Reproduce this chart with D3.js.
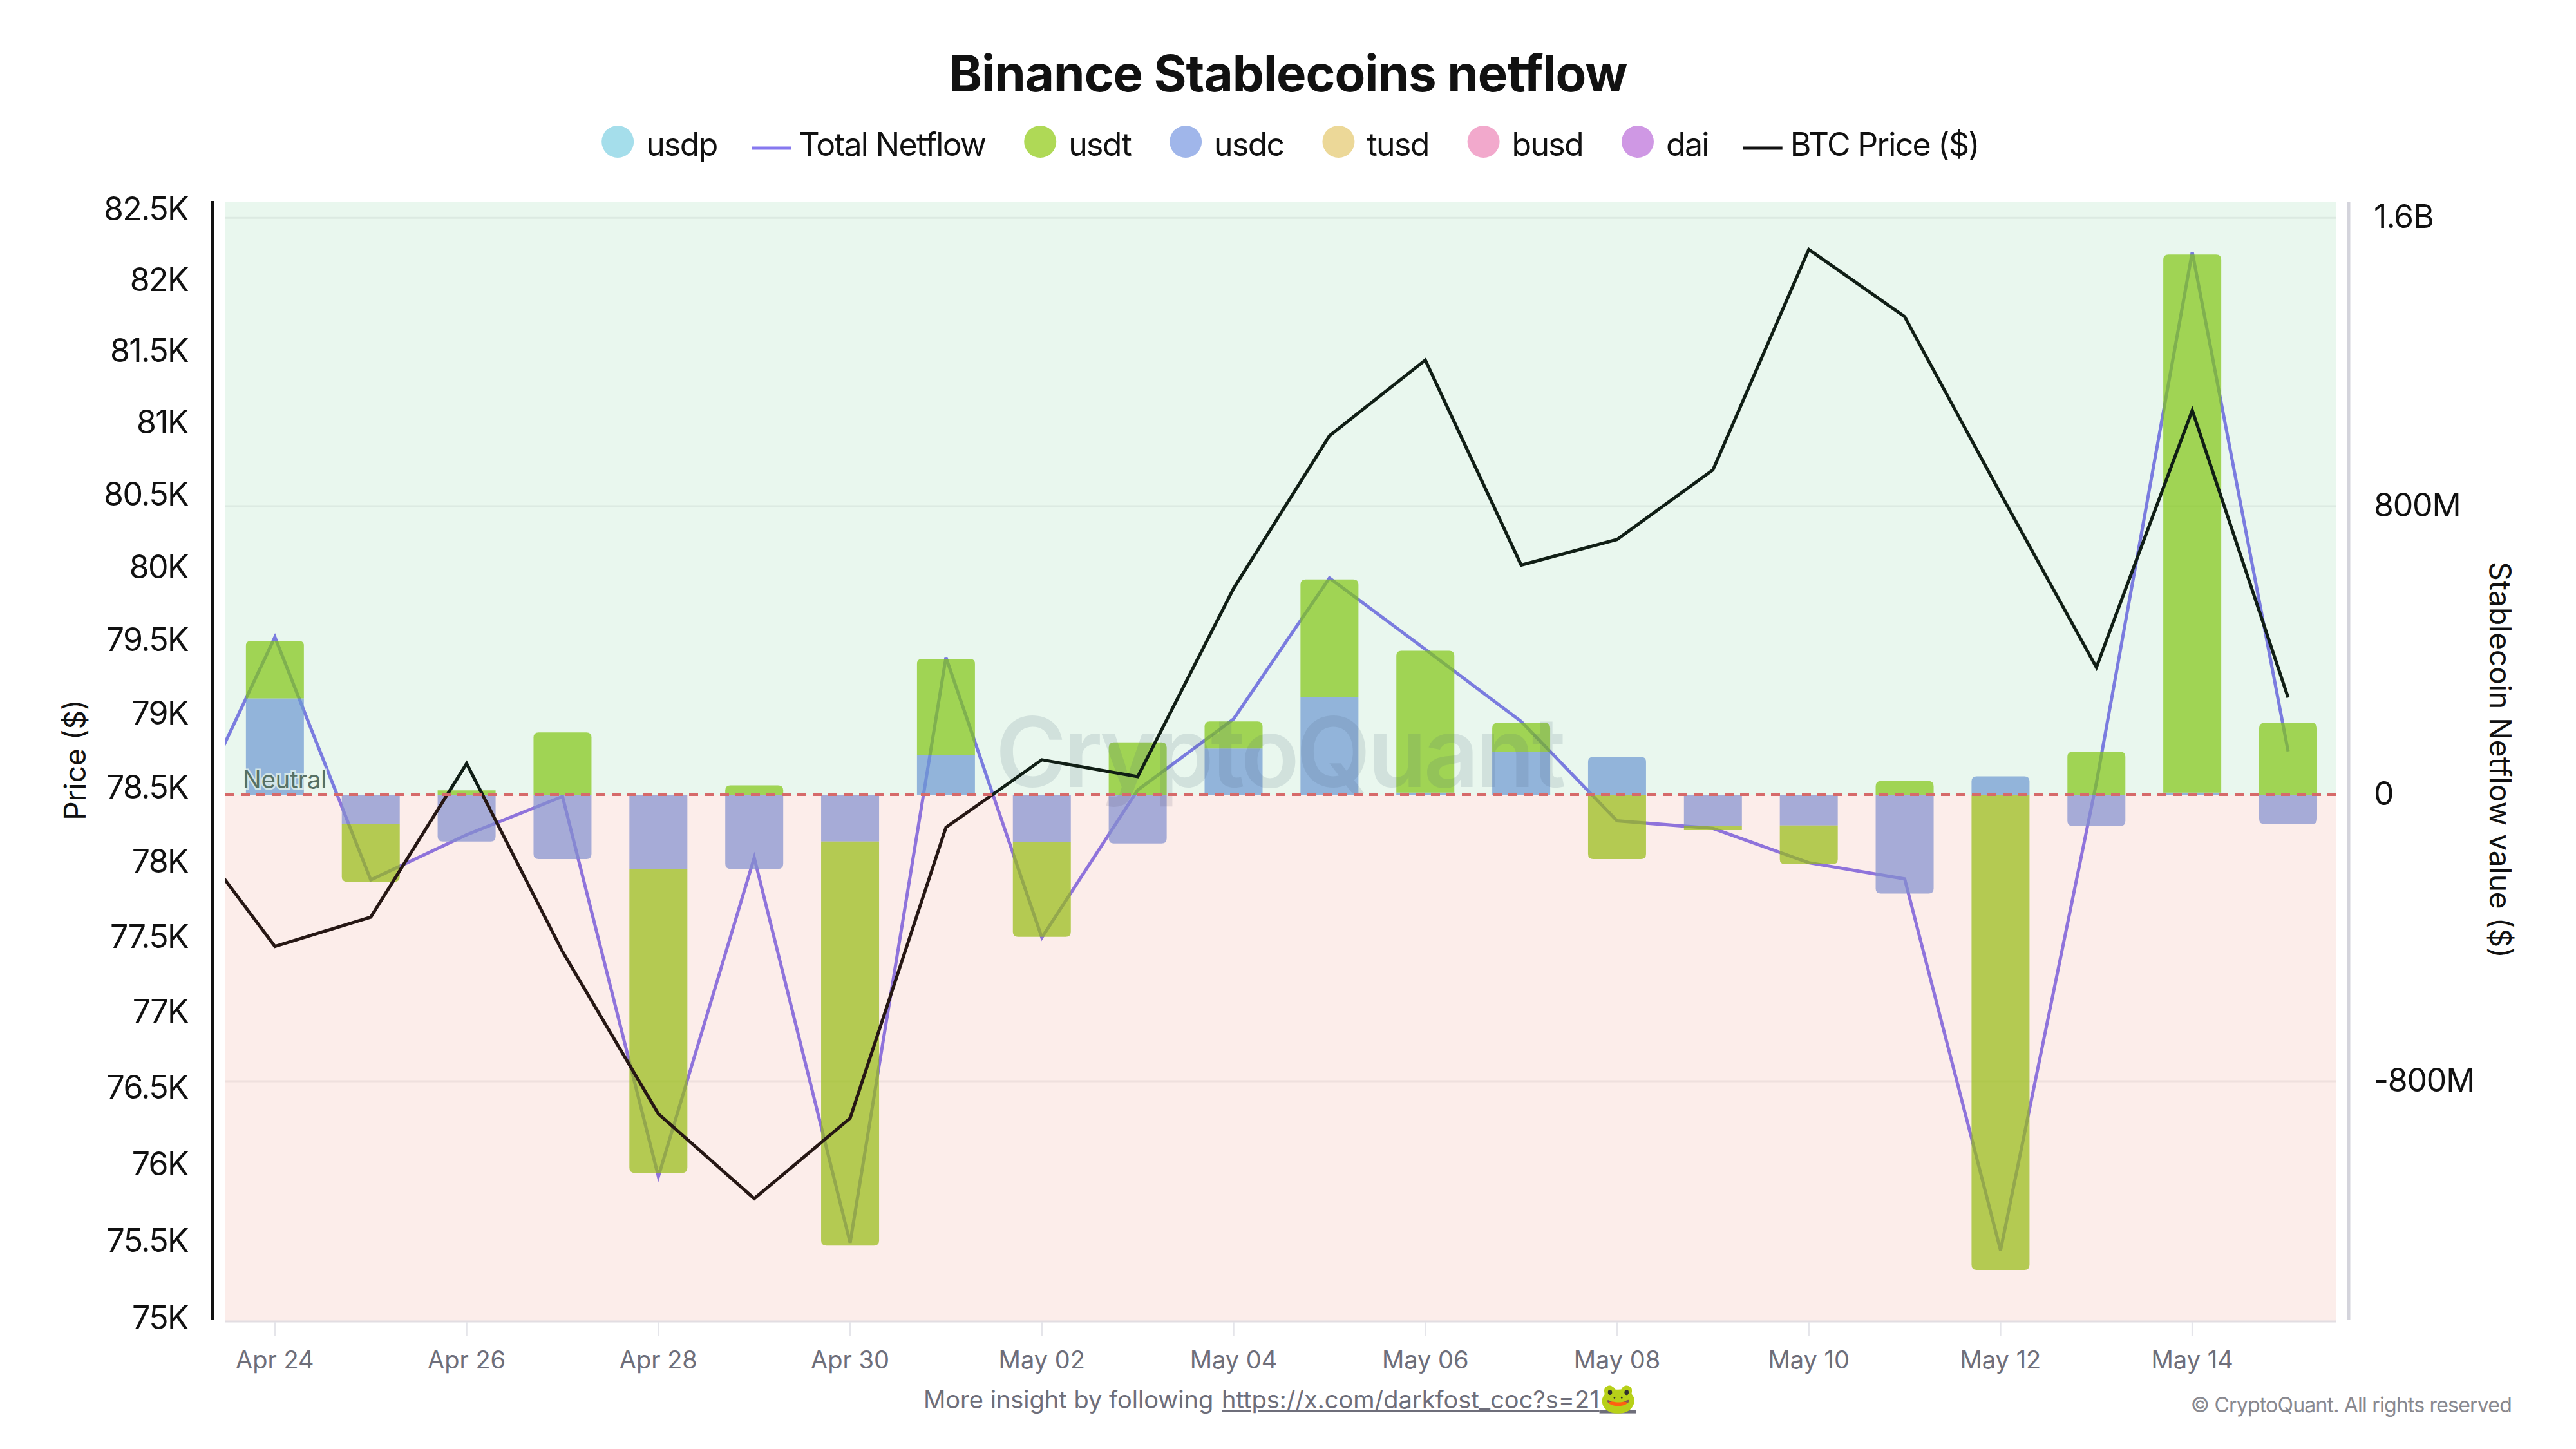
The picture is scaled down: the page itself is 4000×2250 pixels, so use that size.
<!DOCTYPE html>
<html><head><meta charset="utf-8">
<script src="https://cdn.jsdelivr.net/npm/d3@7"></script>
<style>
html,body{margin:0;padding:0;background:#fff}
text{font-family:Inter,"Noto Sans",sans-serif}
</style></head><body>
<div id="chart"></div>
<script>
const chartTitle = "Binance Stablecoins netflow";
const dates = ["Apr 23","Apr 24","Apr 25","Apr 26","Apr 27","Apr 28","Apr 29","Apr 30","May 01","May 02","May 03","May 04","May 05","May 06","May 07","May 08","May 09","May 10","May 11","May 12","May 13","May 14","May 15"];
const usdt = [null,160,-161,12,173,-849,26,-1128,267,-264,145,75,326,393,80,-180,-12,-108,38,-1327,119,1492,199];
const usdc = [null,267,-82,-131,-180,-207,-207,-131,110,-133,-136,128,271,6,119,105,-87,-86,-276,51,-87,6,-82];
const totalNetflow = [-128,437,-238,-112,-5,-1066,-176,-1251,381,-399,13,210,601,403,203,-73,-94,-190,-235,-1272,33,1505,120];
const btcPrice = [78288,77431,77626,78658,77397,76325,75771,76296,78227,78683,78569,79850,80905,81433,80011,80187,80668,82211,81737,80504,79311,81082,79105];
const priceTicks = [75000,75500,76000,76500,77000,77500,78000,78500,79000,79500,80000,80500,81000,81500,82000,82500];
const netflowTicks = [-800,0,800,1600];
const legendItems = [
 {name:"usdp",type:"dot",color:"#7fd0e3"},
 {name:"Total Netflow",type:"line",color:"#8678ef"},
 {name:"usdt",type:"dot",color:"#8dc90e"},
 {name:"usdc",type:"dot",color:"#7797e1"},
 {name:"tusd",type:"dot",color:"#e4c86c"},
 {name:"busd",type:"dot",color:"#ec84b6"},
 {name:"dai",type:"dot",color:"#bb6cd8"},
 {name:"BTC Price ($)",type:"line",color:"#111111"}
];

const W=4000,H=2250;
const L=350,R=3628,T=313,B=2051;
const svg=d3.select("#chart").append("svg").attr("width",W).attr("height",H).style("display","block");
const defs=svg.append("defs");
defs.append("clipPath").attr("id","plotClip").append("rect").attr("x",L).attr("y",T).attr("width",R-L).attr("height",B-T);

const x=d3.scalePoint().domain(dates).range([278,3553]);
const yP=d3.scaleLog().domain([74979,82550]).range([2051,313]);
const yN=d3.scaleLinear().domain([-1469,0,1645]).range([2051,1234,313]);
const barW=90;

const plot=svg.append("g").attr("clip-path","url(#plotClip)");
// gridlines
plot.append("g").selectAll("line").data(netflowTicks.filter(d=>d!==0)).join("line")
 .attr("x1",L).attr("x2",R).attr("y1",d=>yN(d)).attr("y2",d=>yN(d)).attr("stroke","#f1f1f2").attr("stroke-width",3);
// total line under bars
const lineFn=(ys,vals)=>d3.line().x((d,i)=>x(dates[i])).y(d=>ys(d))(vals);
plot.append("path").attr("d",lineFn(yN,totalNetflow)).attr("fill","none").attr("stroke","#8678ef").attr("stroke-width",5);

// stacked bars
function barPath(x0,y0,y1,round){ // round the end away from zero
 const r=8,w=barW,xl=x0-w/2,xr=x0+w/2;
 const p=d3.path();
 const up=y1<y0, s=up?1:-1;
 if(!round||Math.abs(y1-y0)<r){p.rect(xl,Math.min(y0,y1),w,Math.abs(y1-y0));return p.toString();}
 p.moveTo(xl,y0);p.lineTo(xl,y1+s*r);p.quadraticCurveTo(xl,y1,xl+r,y1);p.lineTo(xr-r,y1);p.quadraticCurveTo(xr,y1,xr,y1+s*r);p.lineTo(xr,y0);p.closePath();
 return p.toString();
}
const barG=plot.append("g");
dates.forEach((d,i)=>{
 if(usdc[i]===null)return;
 const c=usdc[i],t=usdt[i],cx=x(d);
 const sameSign=(c>=0)===(t>=0);
 barG.append("path").attr("d",barPath(cx,yN(0),yN(c),!sameSign)).attr("fill","#7797e1").attr("fill-opacity",.7);
 const base=sameSign?c:0;
 barG.append("path").attr("d",barPath(cx,yN(base),yN(base+t),true)).attr("fill","#8dc90e").attr("fill-opacity",.7);
});
// watermark
plot.append("text").attr("x",1986).attr("y",1222).attr("text-anchor","middle").attr("font-size",150).attr("font-weight",600).attr("letter-spacing",-5).attr("fill","rgba(80,95,125,.15)").text("CryptoQuant");
// BTC
plot.append("path").attr("d",lineFn(yP,btcPrice)).attr("fill","none").attr("stroke","#111111").attr("stroke-width",5);
// neutral label
plot.append("text").attr("x",377).attr("y",1224).attr("font-size",38).attr("fill","#5f6b68").attr("stroke","#fff").attr("stroke-opacity",.75).attr("stroke-width",5).attr("paint-order","stroke").text("Neutral");
// overlay zones
plot.append("rect").attr("x",L).attr("y",T).attr("width",R-L).attr("height",yN(0)-T).attr("fill","rgb(10,165,70)").attr("fill-opacity",.09);
plot.append("rect").attr("x",L).attr("y",yN(0)).attr("width",R-L).attr("height",B-yN(0)).attr("fill","rgb(225,75,45)").attr("fill-opacity",.1);
// zero line
plot.append("line").attr("x1",L).attr("x2",R).attr("y1",yN(0)).attr("y2",yN(0)).attr("stroke","#d66a6a").attr("stroke-width",4).attr("stroke-dasharray","14 10");

// bottom axis
const xAxisG=svg.append("g");
xAxisG.append("line").attr("x1",L).attr("x2",R).attr("y1",B+1).attr("y2",B+1).attr("stroke","#e2dde2").attr("stroke-width",3);
const tickDates=dates.filter((d,i)=>i%2===1);
xAxisG.selectAll("line.t").data(tickDates).join("line").attr("class","t").attr("x1",d=>x(d)).attr("x2",d=>x(d)).attr("y1",B+2).attr("y2",2075).attr("stroke","#e5e5ea").attr("stroke-width",2.5);
xAxisG.selectAll("text").data(tickDates).join("text").attr("x",d=>x(d)).attr("y",2125).attr("text-anchor","middle").attr("font-size",38).attr("fill","#6e6e7a").text(d=>d);

// left axis
svg.append("line").attr("x1",330).attr("x2",330).attr("y1",312).attr("y2",2050).attr("stroke","#111").attr("stroke-width",5);
svg.append("g").selectAll("text").data(priceTicks).join("text").attr("x",292).attr("y",d=>yP(d)).attr("dy","0.36em").attr("text-anchor","end").attr("font-size",50).attr("letter-spacing",-1.6).attr("fill","#111").text(d=>d3.format(".3~s")(d).replace("k","K"));
svg.append("text").attr("transform","translate(116,1180) rotate(-90)").attr("dy","0.36em").attr("text-anchor","middle").attr("font-size",46).attr("fill","#111").text("Price ($)");

// right axis
svg.append("line").attr("x1",3647).attr("x2",3647).attr("y1",313).attr("y2",2050).attr("stroke","#d4d4dc").attr("stroke-width",5);
const fmtN=d=>d===0?"0":(Math.abs(d)>=1000?(d/1000)+"B":d+"M");
svg.append("g").selectAll("text").data(netflowTicks).join("text").attr("x",3686).attr("y",d=>yN(d)-2).attr("dy","0.36em").attr("font-size",50).attr("letter-spacing",-1.2).attr("fill","#111").text(fmtN);
svg.append("text").attr("transform","translate(3883,1180) rotate(90)").attr("dy","0.36em").attr("text-anchor","middle").attr("font-size",46).attr("fill","#111").text("Stablecoin Netflow value ($)");

// title
svg.append("text").attr("x",2000).attr("y",142).attr("text-anchor","middle").attr("font-size",78).attr("font-weight",700).attr("letter-spacing",-1).attr("fill","#111").text(chartTitle);

// legend (flow layout)
const lg=svg.append("g");
let cur=0;
legendItems.forEach((it,i)=>{
 const g=lg.append("g").attr("transform",`translate(${cur},0)`);
 let tx;
 if(it.type==="dot"){g.append("circle").attr("cx",25).attr("cy",220).attr("r",25).attr("fill",it.color).attr("fill-opacity",.7);tx=69;}
 else{g.append("line").attr("x1",0).attr("x2",61).attr("y1",230).attr("y2",230).attr("stroke",it.color).attr("stroke-width",5);tx=73;}
 const t=g.append("text").attr("x",tx).attr("y",242).attr("font-size",50).attr("letter-spacing",-1.7).attr("fill","#111").text(it.name);
 const next=legendItems[i+1];
 cur+=tx+t.node().getComputedTextLength()+(next?(next.type==="line"?54:60):0);
});
lg.attr("transform",`translate(${2003.5-cur/2},0)`);

// footer
svg.append("text").attr("x",1434).attr("y",2187).attr("font-size",38).attr("fill","#6e6e7a").text("More insight by following");
const link=svg.append("text").attr("x",1897).attr("y",2187).attr("font-size",38).attr("fill","#6e6e7a").attr("text-decoration","underline");
link.append("tspan").text("https://x.com/darkfost_coc?s=21");
link.append("tspan").attr("font-size",46).text("🐸");
svg.append("text").attr("x",3900).attr("y",2193).attr("text-anchor","end").attr("font-size",32).attr("letter-spacing",-0.8).attr("fill","#88888f").text("© CryptoQuant. All rights reserved");
</script>
</body></html>
